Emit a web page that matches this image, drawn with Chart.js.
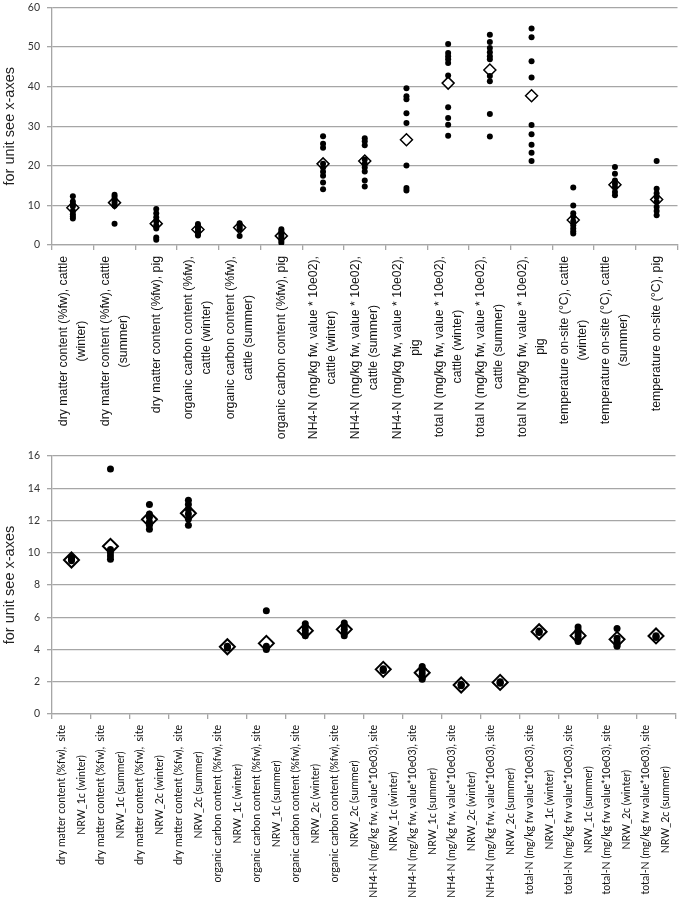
<!DOCTYPE html>
<html>
<head>
<meta charset="utf-8">
<script src="https://cdn.jsdelivr.net/npm/chart.js@4.4.0/dist/chart.umd.min.js"></script>
<style>
  body { margin: 0; background: #fff; }
  #top { position: absolute; left: 0; top: 0; width: 685px; height: 445px; }
  #bottom { position: absolute; left: 0; top: 445px; width: 685px; height: 453px; }
</style>
</head>
<body>
<div id="top"><canvas id="chartTop"></canvas></div>
<div id="bottom"><canvas id="chartBottom"></canvas></div>
<script>
// top chart: categories (label lines), measured values, means
var topLabels = [
  ['dry matter content (%fw), cattle', '(winter)'],
  ['dry matter content (%fw), cattle', '(summer)'],
  ['dry matter content (%fw), pig'],
  ['organic carbon content (%fw),', 'cattle (winter)'],
  ['organic carbon content (%fw),', 'cattle (summer)'],
  ['organic carbon content (%fw), pig'],
  ['NH4-N (mg/kg fw, value * 10e02),', 'cattle (winter)'],
  ['NH4-N (mg/kg fw, value * 10e02),', 'cattle (summer)'],
  ['NH4-N (mg/kg fw, value * 10e02),', 'pig'],
  ['total N (mg/kg fw, value * 10e02),', 'cattle (winter)'],
  ['total N (mg/kg fw, value * 10e02),', 'cattle (summer)'],
  ['total N (mg/kg fw, value * 10e02),', 'pig'],
  ['temperature on-site (°C), cattle', '(winter)'],
  ['temperature on-site (°C), cattle', '(summer)'],
  ['temperature on-site (°C), pig']
];
var topValues = [
  [12.3, 11.0, 10.3, 9.8, 8.6, 7.8, 7.2, 6.7],
  [12.7, 12.2, 11.5, 11.0, 10.4, 9.9, 5.4],
  [9.1, 8.0, 7.0, 6.0, 5.0, 4.2, 1.9, 1.3],
  [5.3, 4.8, 4.3, 3.8, 3.2, 2.8, 2.4],
  [5.5, 5.0, 4.5, 4.0, 2.3],
  [4.0, 3.5, 3.0, 2.5, 2.0, 1.5, 1.0, 0.5],
  [27.5, 25.6, 24.6, 20.5, 19.6, 18.5, 17.5, 15.8, 14.1],
  [27.0, 26.2, 25.2, 21.6, 20.5, 19.6, 18.6, 16.3, 14.8],
  [39.6, 37.6, 36.8, 33.3, 30.8, 20.1, 14.4, 13.8],
  [50.8, 48.5, 47.7, 46.9, 46.0, 42.8, 34.8, 32.1, 30.4, 27.6],
  [53.1, 51.3, 49.8, 48.7, 47.7, 46.9, 42.7, 41.4, 33.1, 27.4],
  [54.7, 52.5, 46.4, 42.3, 30.3, 28.0, 25.3, 23.3, 21.2],
  [14.5, 10.0, 8.0, 7.2, 6.0, 5.0, 4.2, 3.5, 2.9],
  [19.7, 18.0, 16.3, 15.5, 14.6, 13.4, 12.6],
  [21.2, 14.2, 13.1, 12.1, 10.9, 9.6, 8.6, 7.5]
];
var topMeans = [9.4, 10.7, 5.4, 3.9, 4.4, 2.3, 20.5, 21.2, 26.6, 40.9, 44.2, 37.7, 6.3, 15.2, 11.5];

// bottom chart
var bottomLabels = [
  ['dry matter content (%fw),  site', 'NRW_1c (winter)'],
  ['dry matter content (%fw),  site', 'NRW_1c (summer)'],
  ['dry matter content (%fw),  site', 'NRW_2c (winter)'],
  ['dry matter content (%fw),  site', 'NRW_2c (summer)'],
  ['organic carbon content (%fw), site', 'NRW_1c (winter)'],
  ['organic carbon content (%fw), site', 'NRW_1c (summer)'],
  ['organic carbon content (%fw), site', 'NRW_2c (winter)'],
  ['organic carbon content (%fw), site', 'NRW_2c (summer)'],
  ['NH4-N (mg/kg fw, value*10e03), site', 'NRW_1c (winter)'],
  ['NH4-N (mg/kg fw, value*10e03), site', 'NRW_1c (summer)'],
  ['NH4-N (mg/kg fw, value*10e03), site', 'NRW_2c (winter)'],
  ['NH4-N (mg/kg fw, value*10e03), site', 'NRW_2c (summer)'],
  ['total-N (mg/kg fw value*10e03), site', 'NRW_1c (winter)'],
  ['total-N (mg/kg fw value*10e03), site', 'NRW_1c (summer)'],
  ['total-N (mg/kg fw value*10e03), site', 'NRW_2c (winter)'],
  ['total-N (mg/kg fw value*10e03), site', 'NRW_2c (summer)']
];
var bottomValues = [
  [9.7, 9.6, 9.5],
  [15.2, 10.2, 10.0, 9.8, 9.6],
  [13.0, 12.4, 12.2, 11.9, 11.7, 11.45],
  [13.25, 13.0, 12.7, 12.4, 12.1, 11.7],
  [4.2, 4.15, 4.1],
  [6.4, 4.2, 4.1, 4.0],
  [5.6, 5.4, 5.2, 5.0, 4.85],
  [5.65, 5.45, 5.25, 5.05, 4.85],
  [2.8, 2.75, 2.7],
  [2.95, 2.7, 2.5, 2.3, 2.15],
  [1.85, 1.8, 1.75],
  [2.0, 1.95, 1.9],
  [5.15, 5.1, 5.05],
  [5.4, 5.2, 5.0, 4.8, 4.6, 4.5],
  [5.3, 4.7, 4.5, 4.3, 4.2],
  [4.85, 4.8, 4.75]
];
var bottomMeans = [9.55, 10.4, 12.07, 12.45, 4.17, 4.38, 5.17, 5.25, 2.77, 2.56, 1.8, 1.96, 5.1, 4.86, 4.63, 4.84];

var gridGrey = '#a6a6a6';

// draws the rotated x labels, lines centred on each other like the original
var xLabelPlugin = {
  id: 'xLabels',
  afterDraw: function(chart) {
    var o = chart.options.plugins.xLabels;
    var scale = chart.scales.x;
    var ctx = chart.ctx;
    ctx.save();
    ctx.font = o.font;
    ctx.fillStyle = o.color;
    ctx.textAlign = 'center';
    ctx.textBaseline = 'middle';
    o.labels.forEach(function(lines, i) {
      var x = scale.getPixelForValue(i);
      var w = Math.max.apply(null, lines.map(function(l) { return ctx.measureText(l).width; }));
      ctx.save();
      ctx.translate(x, scale.top + o.pad);
      ctx.rotate(-Math.PI / 2);
      lines.forEach(function(l, j) {
        ctx.fillText(l, -w / 2, (j - (lines.length - 1) / 2) * o.lineGap);
      });
      ctx.restore();
    });
    ctx.restore();
  }
};

function makeChart(id, labels, values, means, cfg) {
  var names = labels.map(function(l) { return l.join(' '); });
  var dots = [];
  values.forEach(function(list, i) {
    list.forEach(function(v) { dots.push({ x: names[i], y: v }); });
  });
  var meanPts = means.map(function(m, i) { return { x: names[i], y: m }; });

  return new Chart(document.getElementById(id), {
    type: 'line',
    data: {
      labels: names,
      datasets: [
        {
          label: 'values', data: dots, showLine: false,
          pointStyle: 'circle', pointRadius: cfg.dotR,
          pointBackgroundColor: '#000', pointBorderColor: '#000', pointBorderWidth: 0
        },
        {
          label: 'mean', data: meanPts, showLine: false,
          pointStyle: 'rectRot', pointRadius: cfg.diaR,
          pointBackgroundColor: '#fff', pointBorderColor: '#000', pointBorderWidth: cfg.diaW
        }
      ]
    },
    options: {
      responsive: true,
      maintainAspectRatio: false,
      animation: false,
      events: [],
      layout: { padding: { top: cfg.padTop, right: 2, left: 0, bottom: 0 } },
      plugins: {
        legend: { display: false },
        tooltip: { enabled: false },
        xLabels: { labels: labels, font: cfg.labelFont, color: '#111', pad: 11, lineGap: cfg.lineGap }
      },
      scales: {
        x: {
          type: 'category',
          offset: true,
          grid: { offset: true, drawOnChartArea: false, color: gridGrey, lineWidth: 1.3, tickLength: 5 },
          border: { color: gridGrey, width: 1.3 },
          ticks: { display: false },
          afterFit: function(s) { s.height = cfg.xHeight; s.paddingLeft = 0; s.paddingRight = 0; }
        },
        y: {
          min: 0, max: cfg.max,
          ticks: { stepSize: cfg.step, color: '#333', font: { family: 'Lato', size: 10.5 }, padding: 7 },
          grid: { color: gridGrey, lineWidth: 1.3, tickLength: 5 },
          border: { color: gridGrey, width: 1.3 },
          title: {
            display: true, text: 'for unit see x-axes', color: '#222',
            font: { family: 'Liberation Sans', size: 14.5 }, padding: { top: 1, bottom: 0 }
          },
          afterFit: function(s) { s.width = 52; s.paddingTop = 0; s.paddingBottom = 0; }
        }
      }
    },
    plugins: [xLabelPlugin]
  });
}

makeChart('chartTop', topLabels, topValues, topMeans, {
  max: 60, step: 10, padTop: 6, xHeight: 200,
  dotR: 3, diaR: 6, diaW: 1.5,
  labelFont: '12.3px "Liberation Sans"', lineGap: 18
});

makeChart('chartBottom', bottomLabels, bottomValues, bottomMeans, {
  max: 16, step: 2, padTop: 11, xHeight: 184,
  dotR: 3.5, diaR: 7.5, diaW: 2,
  labelFont: '10.6px Lato', lineGap: 20
});
</script>
</body>
</html>
